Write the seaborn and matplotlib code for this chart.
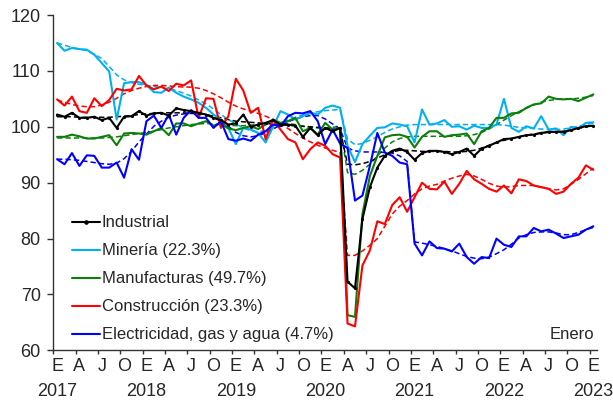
import pandas as pd
import numpy as np
import matplotlib
matplotlib.use('Agg')
import matplotlib.pyplot as plt
import seaborn as sns
from matplotlib.lines import Line2D

# --- Datos: índice mensual ene-2017 .. ene-2023 ---
months = list(range(73))
month_letters = ['E', 'A', 'J', 'O']
years = ['2017', '2018', '2019', '2020', '2021', '2022', '2023']

industrial = [102.2, 101.8, 102.5, 101.6, 101.6, 101.8, 101.2, 101.6, 99.8, 101.8,
              101.9, 102.8, 102.0, 102.4, 102.5, 102.0, 103.3, 103.0, 102.8, 102.5,
              102.2, 101.6, 101.2, 100.4, 100.6, 102.2, 100.0, 100.4, 100.7, 101.2,
              100.4, 100.4, 100.2, 98.2, 99.8, 98.5, 99.8, 99.2, 99.8, 72.3,
              71.1, 83.5, 89.2, 92.7, 94.8, 95.7, 96.1, 95.5, 94.1, 95.3,
              95.7, 95.7, 95.5, 95.1, 95.5, 96.1, 94.8, 96.1, 96.6, 97.2,
              97.8, 97.9, 98.2, 98.5, 98.6, 98.9, 99.1, 99.1, 99.1, 99.4,
              99.8, 100.1, 100.2]
mineria = [115.0, 113.6, 114.1, 113.9, 113.8, 112.9, 111.4, 109.9, 101.3, 107.8,
           108.0, 108.0, 107.5, 106.2, 106.1, 107.0, 106.1, 105.4, 104.9, 104.3,
           103.4, 102.2, 101.3, 99.8, 96.9, 99.8, 99.5, 98.9, 97.2, 100.0,
           102.8, 102.2, 101.3, 101.9, 102.5, 102.2, 103.4, 103.8, 103.4, 96.6,
           93.7, 96.9, 98.4, 99.8, 99.9, 100.6, 100.4, 100.1, 97.2, 103.1,
           100.4, 100.6, 101.2, 100.0, 100.1, 99.5, 100.2, 99.8, 99.8, 100.4,
           105.0, 99.8, 99.1, 100.1, 99.7, 101.9, 99.5, 99.7, 98.5, 100.0,
           99.7, 100.7, 100.8]
manufacturas = [98.2, 98.2, 98.6, 98.3, 97.9, 97.9, 98.2, 98.5, 96.7, 98.8,
                98.9, 98.8, 98.6, 99.2, 99.8, 98.5, 100.6, 100.6, 100.1, 100.6,
                101.0, 100.2, 100.6, 99.7, 99.4, 99.8, 100.1, 99.6, 100.4, 101.3,
                100.7, 101.0, 101.6, 99.2, 99.8, 98.6, 100.7, 99.5, 99.8, 66.3,
                66.0, 84.4, 91.2, 94.8, 98.1, 98.5, 98.6, 98.2, 96.3, 98.2,
                99.2, 99.2, 98.2, 98.5, 98.6, 98.8, 96.9, 99.2, 99.8, 101.6,
                101.6, 102.4, 102.5, 103.4, 104.0, 104.2, 105.4, 105.0, 104.9, 105.0,
                104.6, 105.2, 105.8]
construccion = [104.9, 103.8, 105.4, 102.8, 102.5, 105.1, 103.7, 104.8, 106.8, 106.5,
                106.7, 109.1, 107.4, 106.7, 107.2, 106.4, 107.7, 107.4, 108.3, 101.6,
                105.1, 105.0, 99.8, 101.9, 108.6, 106.5, 102.5, 103.4, 97.8, 101.3,
                99.5, 97.8, 97.2, 94.2, 96.0, 97.2, 96.6, 95.1, 94.5, 64.8,
                64.3, 75.2, 77.9, 83.1, 82.6, 86.0, 87.4, 84.8, 87.4, 90.0,
                88.9, 88.8, 90.2, 88.0, 89.8, 92.1, 90.6, 89.8, 88.9, 88.4,
                89.5, 88.1, 90.6, 90.3, 89.5, 89.2, 88.9, 88.0, 88.4, 89.8,
                90.9, 93.1, 92.3]
electricidad = [94.2, 93.3, 95.3, 93.0, 94.9, 94.8, 92.7, 92.7, 93.6, 90.9,
                96.0, 94.1, 101.0, 102.0, 99.8, 102.2, 98.6, 101.6, 103.0, 101.6,
                101.6, 99.8, 101.0, 97.8, 97.5, 97.9, 97.5, 98.6, 99.2, 100.4,
                100.1, 101.9, 102.5, 102.4, 102.8, 101.0, 96.9, 99.5, 97.0, 96.2,
                86.8, 87.7, 93.0, 98.9, 95.4, 94.8, 93.6, 93.3, 79.1, 77.0,
                79.5, 78.3, 78.2, 77.7, 79.1, 76.7, 75.5, 76.7, 76.5, 80.0,
                78.9, 78.5, 80.4, 80.4, 81.9, 81.3, 81.6, 80.9, 80.1, 80.4,
                80.7, 81.6, 82.2]

# --- Tendencias (líneas discontinuas) ---
industrial_tend = [101.8, 101.8, 101.8, 101.7, 101.7, 101.7, 101.7, 101.7, 101.8, 101.9,
                   102.0, 102.2, 102.3, 102.4, 102.5, 102.5, 102.5, 102.5, 102.4, 102.4,
                   102.2, 101.9, 101.6, 101.3, 101.0, 100.9, 100.8, 100.7, 100.6, 100.5,
                   100.4, 100.3, 100.2, 100.1, 100.0, 99.9, 99.8, 99.6, 99.5, 93.3,
                   93.2, 93.4, 93.8, 94.4, 95.0, 95.5, 95.8, 95.8, 95.7, 95.6,
                   95.6, 95.6, 95.6, 95.5, 95.5, 95.6, 95.8, 96.2, 96.7, 97.2,
                   97.6, 97.9, 98.2, 98.5, 98.7, 98.9, 99.0, 99.1, 99.2, 99.4,
                   99.7, 100.0, 100.2]
mineria_tend = [115.0, 114.6, 114.2, 113.9, 113.6, 113.0, 112.2, 110.8, 109.3, 108.4,
                107.9, 107.6, 107.4, 107.2, 107.0, 106.8, 106.5, 106.0, 105.5, 104.8,
                104.1, 103.2, 102.2, 101.3, 100.5, 99.8, 99.3, 99.1, 99.3, 99.8,
                100.6, 101.2, 101.7, 102.1, 102.4, 102.7, 102.9, 103.0, 103.1, 97.8,
                96.8, 97.0, 97.6, 98.2, 99.0, 99.6, 100.0, 100.3, 100.4, 100.4,
                100.4, 100.4, 100.4, 100.4, 100.4, 100.4, 100.4, 100.4, 100.4, 100.4,
                100.3, 100.1, 99.9, 99.8, 99.7, 99.6, 99.5, 99.5, 99.6, 99.8,
                100.1, 100.4, 100.7]
manufacturas_tend = [98.0, 98.0, 98.0, 98.0, 98.0, 98.0, 98.0, 98.1, 98.2, 98.4,
                     98.6, 98.8, 99.0, 99.2, 99.5, 99.8, 100.0, 100.2, 100.4, 100.5,
                     100.6, 100.5, 100.4, 100.3, 100.2, 100.2, 100.3, 100.4, 100.6, 100.7,
                     100.7, 100.6, 100.4, 100.1, 99.9, 99.8, 99.8, 99.9, 100.1, 91.8,
                     91.5, 92.2, 93.3, 94.8, 96.2, 97.3, 97.9, 98.2, 98.3, 98.3,
                     98.3, 98.3, 98.3, 98.3, 98.3, 98.4, 98.6, 99.0, 99.6, 100.4,
                     101.2, 102.0, 102.7, 103.3, 103.9, 104.4, 104.7, 104.9, 105.0, 105.0,
                     105.1, 105.3, 105.6]
construccion_tend = [104.8, 104.4, 104.0, 103.7, 103.6, 103.6, 103.9, 104.4, 105.1, 105.9,
                     106.5, 106.9, 107.2, 107.4, 107.4, 107.3, 107.2, 107.1, 107.1, 106.9,
                     106.5, 105.9, 105.2, 104.4, 103.7, 103.2, 102.8, 102.4, 101.9, 101.3,
                     100.6, 99.7, 98.8, 98.0, 97.3, 96.7, 96.2, 95.8, 95.4, 77.0,
                     77.0, 77.8, 78.8, 80.0, 82.2, 84.4, 85.8, 86.8, 88.0, 88.9,
                     89.4, 89.7, 90.3, 90.8, 91.2, 91.5, 91.2, 90.6, 89.9, 89.4,
                     89.2, 89.3, 89.5, 89.5, 89.5, 89.2, 88.9, 88.7, 88.9, 89.7,
                     90.6, 91.6, 92.6]
electricidad_tend = [94.2, 94.2, 94.1, 94.0, 93.8, 93.6, 93.4, 93.3, 93.5, 94.3,
                     95.6, 97.3, 98.7, 100.1, 101.0, 101.7, 102.1, 102.3, 102.4, 102.4,
                     102.2, 101.7, 101.0, 100.1, 99.0, 98.4, 98.2, 98.4, 98.9, 99.6,
                     100.3, 100.9, 101.4, 101.8, 102.0, 102.0, 101.4, 100.5, 99.6, 96.2,
                     95.7, 95.5, 95.5, 95.5, 95.4, 95.3, 94.8, 93.8, 79.4, 79.2,
                     78.9, 78.6, 78.2, 77.8, 77.3, 76.8, 76.5, 76.4, 76.7, 77.3,
                     78.0, 79.0, 80.1, 80.7, 81.1, 81.2, 81.2, 81.0, 80.7, 80.7,
                     81.1, 81.6, 82.0]

labels = ['Industrial', 'Minería (22.3%)', 'Manufacturas (49.7%)',
          'Construcción (23.3%)', 'Electricidad, gas y agua (4.7%)']
colors = ['black', '#00B0F0', '#0A7F0A', '#FF0000', '#0000FF']

df = pd.DataFrame({'mes': months,
                   'Industrial': industrial, 'Mineria': mineria,
                   'Manufacturas': manufacturas, 'Construccion': construccion,
                   'Electricidad': electricidad})
tend = pd.DataFrame({'mes': months,
                     'Industrial': industrial_tend, 'Mineria': mineria_tend,
                     'Manufacturas': manufacturas_tend, 'Construccion': construccion_tend,
                     'Electricidad': electricidad_tend})
cols = ['Industrial', 'Mineria', 'Manufacturas', 'Construccion', 'Electricidad']

sns.set_style('ticks')
plt.rcParams['font.family'] = ['Liberation Sans', 'DejaVu Sans']

fig = plt.figure(figsize=(6.13, 4.0), dpi=100)
ax = fig.add_axes([0.087, 0.124, 0.887, 0.8385])

# tendencias primero, series encima
order = [1, 2, 3, 4, 0]
for i in order:
    sns.lineplot(x=tend['mes'], y=tend[cols[i]], color=colors[i], lw=1.1,
                 linestyle='--', ax=ax)
    ax.lines[-1].set_dashes([3.5, 2])
for i in order:
    if cols[i] == 'Industrial':
        sns.lineplot(x=df['mes'], y=df[cols[i]], color=colors[i], lw=1.5,
                     marker='o', markersize=2.3, markeredgewidth=0, ax=ax)
    else:
        sns.lineplot(x=df['mes'], y=df[cols[i]], color=colors[i], lw=1.5, ax=ax)

ax.set_xlim(-0.5, 72.5)
ax.set_ylim(60, 120)
ax.set_yticks(range(60, 121, 10))
ax.set_xlabel('')
ax.set_ylabel('')

# etiquetas de meses (E, A, J, O) y años debajo de cada enero
pos = list(range(0, 73, 3))
ax.set_xticks(pos)
ax.set_xticklabels([month_letters[k % 4] for k in range(len(pos))])
ax.set_xticks([p - 0.5 for p in pos], minor=True)
ax.tick_params(axis='x', which='major', length=0, pad=5.5, labelsize=13)
ax.tick_params(axis='x', which='minor', length=3, width=1, direction='out', color='#333333')
ax.tick_params(axis='y', length=4, width=1, labelsize=13, pad=5, color='#333333')
for k, y in enumerate(years):
    ax.annotate(y, xy=(pos[4 * k], 0), xycoords=('data', 'axes fraction'),
                xytext=(0, -32.5), textcoords='offset points',
                ha='center', va='baseline', fontsize=13, annotation_clip=False)

sns.despine(ax=ax)
for s in ['left', 'bottom']:
    ax.spines[s].set_color('#333333')
    ax.spines[s].set_linewidth(1)

handles = [Line2D([0], [0], color=colors[0], lw=1.5, marker='o', markersize=2.3)]
handles += [Line2D([0], [0], color=c, lw=1.5) for c in colors[1:]]
ax.legend(handles, labels, loc='center left', bbox_to_anchor=(0.034, 0.213),
          frameon=False, fontsize=12, handlelength=1.7, handletextpad=0.1,
          labelspacing=0.78, borderpad=0, borderaxespad=0)

ax.text(0.995, 0.046, 'Enero', transform=ax.transAxes, ha='right', va='center',
        fontsize=12)

plt.savefig('out.png', dpi=100)
